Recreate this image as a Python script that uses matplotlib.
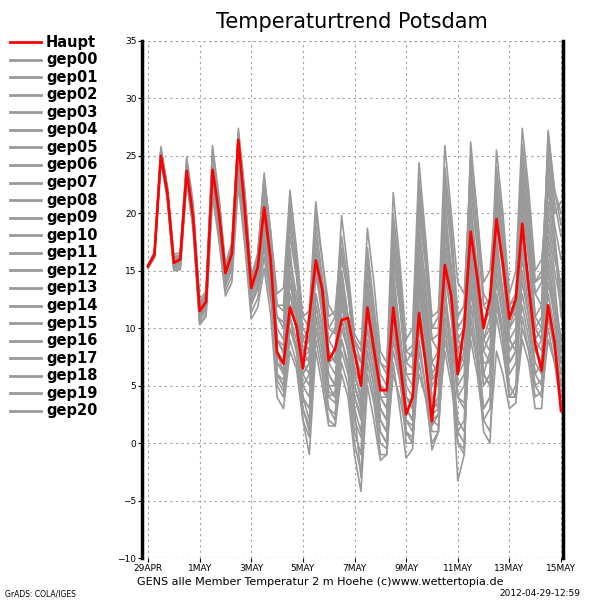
import numpy as np
import matplotlib
matplotlib.use("Agg")
import matplotlib.pyplot as plt
from matplotlib.lines import Line2D

# 6-hourly steps, 29APR 00Z .. 15MAY 00Z
steps = np.arange(65) * 0.25
tick_days = [0, 2, 4, 6, 8, 10, 12, 14, 16]
tick_labels = ['29APR', '1MAY', '3MAY', '5MAY', '7MAY', '9MAY', '11MAY', '13MAY', '15MAY']

haupt = [15.4, 16.4, 25.0, 21.8, 15.7, 16.0, 23.7, 19.6, 11.5, 12.3, 23.8, 20.0,
         14.8, 16.5, 26.4, 20.3, 13.5, 15.3, 20.5, 16.0, 7.9, 6.9, 11.8, 10.2,
         6.5, 11.0, 15.9, 13.4, 7.2, 8.2, 10.7, 10.9, 7.9, 5.0, 11.8, 8.2,
         4.6, 4.6, 11.8, 7.3, 2.5, 4.0, 11.3, 7.0, 1.9, 7.6, 15.5, 12.8,
         6.0, 10.2, 18.4, 14.5, 10.0, 12.6, 19.5, 15.6, 10.8, 12.6, 19.1, 13.6,
         8.6, 6.3, 12.0, 8.8, 2.8]

gep00 = [15.3, 16.3, 25.2, 21.6, 15.5, 15.8, 23.5, 19.4, 11.3, 12.0, 23.2, 19.6, 14.5, 16.2, 25.8, 20.0, 13.2, 14.8, 19.5, 15.2,
         9.0, 7.8, 13.0, 11.0, 7.5, 8.0, 14.5, 12.0, 7.0, 7.5, 12.0, 10.5, 6.5, 5.0, 13.0, 9.0, 5.0, 4.5, 13.5, 9.5,
         5.0, 4.0, 14.0, 10.0, 5.5, 6.5, 17.0, 13.0, 8.0, 9.5, 19.0, 15.0, 10.5, 11.5, 20.5, 16.0, 12.0, 12.5, 18.0, 14.0,
         10.0, 9.0, 15.0, 12.0, 9.0]
gep01 = [15.5, 16.6, 25.6, 22.2, 16.2, 16.4, 24.6, 20.4, 12.2, 13.0, 25.5, 21.2, 15.4, 17.2, 27.0, 21.5, 14.5, 16.0, 22.5, 17.5,
         11.0, 10.0, 18.0, 14.5, 10.0, 9.0, 17.0, 13.5, 9.0, 8.0, 15.0, 11.0, 6.0, 4.0, 10.0, 7.0, 3.0, 2.0, 16.0, 12.0,
         7.0, 6.5, 20.0, 15.5, 9.0, 8.0, 22.0, 17.0, 10.0, 11.0, 24.0, 18.5, 12.0, 12.5, 21.0, 16.0, 11.0, 12.0, 23.0, 18.0,
         13.0, 12.0, 20.0, 16.0, 14.0]
gep02 = [15.3, 16.2, 24.7, 21.4, 15.2, 15.4, 23.1, 19.0, 10.8, 11.6, 22.6, 19.0, 13.6, 15.3, 24.2, 18.6, 12.0, 13.4, 17.0, 13.0,
         6.0, 5.0, 10.0, 8.5, 5.0, 6.0, 12.0, 9.0, 4.0, 3.5, 9.0, 6.5, 2.0, 0.5, 8.0, 5.0, 1.0, 0.0, 12.0, 7.5,
         2.0, 1.5, 11.0, 7.0, 1.5, 2.5, 15.0, 11.0, 4.0, 5.0, 17.0, 13.0, 8.0, 9.5, 22.0, 17.5, 12.0, 13.0, 25.0, 20.0,
         14.0, 14.5, 24.0, 19.0, 16.0]
gep03 = [15.4, 16.5, 25.1, 22.0, 15.9, 16.3, 24.1, 20.1, 12.0, 12.8, 24.8, 20.8, 15.2, 16.9, 26.8, 21.4, 14.2, 16.2, 23.5, 18.0,
         12.0, 11.5, 21.0, 16.0, 11.0, 10.0, 19.0, 14.5, 10.0, 9.5, 17.0, 13.0, 8.0, 7.0, 15.0, 11.0, 7.0, 6.0, 19.0, 14.0,
         8.0, 7.5, 17.0, 12.0, 6.0, 5.0, 13.0, 9.0, 4.0, 3.5, 12.0, 8.0, 3.0, 4.0, 16.0, 12.0, 7.0, 8.0, 20.0, 16.0,
         10.0, 11.0, 27.0, 22.0, 20.0]
gep04 = [15.4, 16.4, 24.9, 21.7, 15.6, 15.9, 23.4, 19.5, 11.4, 12.1, 23.0, 19.4, 14.2, 15.8, 25.0, 19.4, 13.0, 14.4, 18.5, 14.6,
         8.0, 6.0, 15.0, 11.0, 4.0, 2.0, 10.0, 7.0, 3.0, 2.5, 8.0, 6.0, 1.0, -1.0, 12.0, 7.0, 2.0, 1.0, 9.0, 6.0,
         1.0, 0.5, 14.0, 9.0, 3.0, 4.0, 19.0, 14.0, 6.0, 7.0, 22.0, 17.0, 9.0, 11.0, 25.5, 20.0, 13.0, 15.0, 27.4, 22.0,
         15.0, 16.0, 22.0, 18.0, 13.0]
gep05 = [15.5, 16.5, 25.4, 22.0, 15.8, 16.2, 24.0, 19.9, 11.8, 12.6, 24.4, 20.4, 15.0, 16.8, 26.2, 20.6, 13.8, 15.6, 21.4, 16.8,
         7.0, 6.5, 12.0, 10.0, 6.0, 7.0, 16.0, 12.5, 9.0, 10.0, 19.8, 15.0, 9.5, 8.5, 14.0, 10.0, 6.0, 5.0, 11.0, 7.5,
         3.0, 2.0, 8.0, 5.0, 1.0, 1.0, 10.0, 6.0, 0.0, -0.5, 15.0, 10.0, 5.0, 6.0, 18.0, 13.0, 8.0, 9.0, 14.0, 11.0,
         7.0, 6.0, 12.0, 9.0, 5.0]
gep06 = [15.3, 16.3, 24.8, 21.5, 15.4, 15.7, 23.2, 19.2, 11.0, 11.8, 22.2, 18.6, 13.8, 15.4, 24.6, 19.0, 12.4, 13.8, 17.8, 13.6,
         5.0, 4.0, 9.0, 7.0, 3.0, 1.0, 11.0, 8.0, 4.0, 4.5, 14.0, 10.0, 5.0, 3.5, 17.0, 12.0, 7.0, 6.5, 21.8, 16.0,
         9.0, 10.0, 24.4, 18.0, 11.0, 11.5, 20.0, 15.0, 9.0, 8.0, 16.0, 12.0, 6.0, 5.0, 12.0, 9.0, 4.0, 4.0, 15.0, 11.0,
         6.0, 7.0, 18.0, 14.0, 8.0]
gep07 = [15.4, 16.4, 25.0, 21.9, 15.8, 16.1, 23.8, 19.7, 11.6, 12.4, 24.0, 20.1, 14.9, 16.6, 26.5, 20.5, 13.6, 15.4, 21.0, 16.4,
         9.0, 8.0, 16.0, 13.0, 9.0, 10.0, 20.0, 16.0, 11.0, 11.5, 18.0, 14.0, 9.0, 7.0, 11.0, 8.0, 4.0, 3.0, 8.0, 5.5,
         2.0, 1.0, 12.0, 8.0, 2.5, 3.0, 16.0, 12.0, 5.0, 6.0, 20.0, 15.0, 9.0, 10.0, 24.0, 19.0, 11.0, 12.0, 21.0, 16.0,
         10.0, 9.0, 17.0, 13.0, 9.0]
gep08 = [15.5, 16.7, 25.8, 22.4, 16.4, 16.6, 24.9, 20.9, 12.5, 13.2, 25.9, 21.5, 15.5, 17.5, 27.4, 22.0, 14.5, 16.5, 23.0, 18.4,
         6.0, 5.5, 11.0, 8.0, 3.0, 1.5, 9.0, 6.0, 2.0, 1.5, 7.0, 5.0, 0.0, -2.5, 6.0, 3.5, -1.0, -1.0, 10.0, 6.0,
         0.0, 0.0, 15.0, 10.0, 3.0, 3.5, 21.0, 15.0, 6.0, 8.0, 26.2, 20.0, 12.0, 11.0, 19.0, 15.0, 9.0, 8.0, 13.0, 10.0,
         6.0, 5.0, 10.0, 7.0, 4.0]
gep09 = [15.2, 16.1, 24.6, 21.3, 15.1, 15.2, 22.9, 18.8, 10.5, 11.3, 21.8, 18.0, 13.2, 14.6, 23.4, 18.0, 11.4, 12.6, 16.2, 12.4,
         11.0, 10.5, 19.0, 15.0, 8.0, 7.0, 15.0, 11.0, 6.0, 5.0, 11.0, 8.0, 3.0, 1.0, 9.0, 6.0, 2.0, 1.0, 14.0, 9.0,
         4.0, 3.0, 19.0, 14.0, 7.0, 8.0, 24.0, 19.0, 11.0, 12.0, 18.0, 14.0, 8.0, 7.0, 14.0, 11.0, 6.0, 7.0, 17.0, 13.0,
         9.0, 10.0, 21.0, 17.0, 12.0]
gep10 = [15.4, 16.4, 25.1, 21.8, 15.7, 16.0, 23.6, 19.5, 11.5, 12.2, 23.5, 19.8, 14.6, 16.2, 25.9, 20.1, 13.4, 15.0, 20.0, 15.8,
         8.0, 7.0, 14.0, 12.0, 8.0, 9.0, 18.0, 14.0, 10.0, 11.0, 16.0, 13.0, 9.0, 8.0, 18.7, 14.0, 8.0, 7.0, 17.0, 13.0,
         8.0, 8.5, 21.0, 16.0, 10.0, 11.0, 25.9, 20.0, 14.0, 13.0, 23.0, 18.0, 13.0, 12.0, 17.0, 13.0, 9.0, 8.0, 12.0, 9.0,
         5.0, 4.0, 9.0, 7.0, 3.0]
gep11 = [15.3, 16.2, 24.6, 21.2, 15.0, 15.1, 22.8, 18.5, 10.3, 11.0, 21.5, 17.6, 12.8, 14.0, 22.5, 17.2, 10.8, 11.8, 15.2, 11.2,
         4.0, 3.0, 8.0, 6.5, 2.0, 0.5, 10.0, 7.0, 3.0, 2.0, 13.0, 9.0, 3.0, -3.0, 7.0, 4.0, 0.0, -0.5, 13.0, 8.0,
         1.0, 0.0, 16.0, 11.0, 4.0, 3.0, 12.0, 8.0, 2.0, 1.0, 10.0, 7.0, 1.0, 0.0, 13.0, 9.0, 4.0, 5.0, 19.0, 14.0,
         8.0, 9.0, 23.0, 18.0, 11.0]
gep12 = [15.5, 16.6, 25.4, 22.2, 16.1, 16.4, 24.4, 20.3, 12.1, 12.9, 25.0, 20.9, 15.3, 17.0, 26.9, 21.8, 14.3, 16.3, 23.2, 18.5,
         13.0, 13.5, 22.0, 17.0, 11.0, 11.5, 21.0, 16.0, 12.0, 11.0, 13.0, 10.0, 6.0, 4.0, 12.0, 8.0, 3.0, 2.0, 15.0, 10.0,
         4.0, 3.0, 10.0, 7.0, 2.0, 1.5, 9.0, 6.0, 0.0, -1.0, 14.0, 9.0, 3.0, 4.0, 20.0, 15.0, 9.0, 10.0, 24.0, 19.0,
         13.0, 14.0, 26.0, 21.0, 18.0]
gep13 = [15.4, 16.4, 25.0, 21.8, 15.7, 16.0, 23.7, 19.6, 11.6, 12.3, 23.9, 20.0, 14.7, 16.4, 26.2, 20.3, 13.5, 15.2, 20.6, 16.0,
         7.0, 6.0, 12.0, 10.0, 6.0, 5.0, 13.0, 10.0, 5.0, 4.0, 10.0, 8.0, 5.0, 3.0, 16.0, 11.0, 4.0, 4.0, 20.0, 15.0,
         7.0, 8.0, 23.0, 17.0, 10.0, 10.0, 18.0, 14.0, 8.0, 7.0, 13.0, 10.0, 6.0, 5.0, 11.0, 8.0, 4.0, 4.0, 10.0, 8.0,
         5.0, 5.5, 14.0, 11.0, 7.0]
gep14 = [15.3, 16.3, 24.9, 21.6, 15.5, 15.8, 23.3, 19.3, 11.1, 11.9, 22.8, 19.2, 14.0, 15.6, 25.2, 19.6, 12.8, 14.2, 18.8, 14.8,
         10.0, 9.0, 17.0, 11.0, 2.0, -1.0, 8.0, 5.0, 1.5, 1.5, 6.0, 4.0, -1.0, -4.2, 5.0, 2.0, -1.5, -1.0, 7.0, 3.0,
         -1.3, -0.5, 9.0, 5.0, -0.6, 1.0, 14.0, 7.0, -3.3, -1.0, 21.0, 15.0, 6.0, 8.0, 23.0, 18.0, 10.0, 12.0, 26.0, 21.0,
         14.0, 15.0, 25.0, 20.0, 21.0]
gep15 = [15.4, 16.5, 25.2, 22.0, 15.9, 16.2, 24.0, 19.9, 11.8, 12.5, 24.2, 20.3, 15.0, 16.7, 26.6, 20.8, 13.8, 15.8, 21.8, 17.0,
         8.0, 7.0, 13.0, 10.0, 7.0, 7.5, 15.0, 12.0, 8.0, 7.0, 17.0, 13.0, 8.0, 6.0, 13.0, 9.0, 5.0, 4.0, 11.0, 8.0,
         4.0, 3.5, 13.0, 9.0, 5.0, 6.0, 17.0, 13.0, 9.0, 8.0, 12.0, 10.0, 7.0, 7.0, 15.0, 11.0, 8.0, 9.0, 22.0, 17.0,
         11.0, 10.0, 19.0, 15.0, 12.0]
gep16 = [15.4, 16.4, 25.0, 21.8, 15.6, 15.9, 23.6, 19.6, 11.4, 12.2, 23.6, 19.9, 14.7, 16.3, 26.0, 20.2, 13.4, 15.1, 20.2, 15.8,
         5.5, 4.5, 10.0, 8.0, 4.0, 3.0, 12.0, 9.0, 5.0, 5.0, 15.0, 11.0, 6.0, 4.0, 10.0, 7.0, 2.0, 1.0, 18.0, 13.0,
         6.0, 6.0, 22.0, 16.0, 9.0, 9.5, 23.0, 18.0, 11.0, 12.0, 25.0, 20.0, 14.0, 15.0, 22.0, 17.0, 12.0, 11.0, 16.0, 12.0,
         8.0, 7.0, 13.0, 10.0, 6.0]
gep17 = [15.5, 16.6, 25.5, 22.1, 16.0, 16.3, 24.3, 20.1, 12.0, 12.7, 24.8, 20.7, 15.2, 17.0, 26.8, 21.2, 14.1, 16.0, 22.4, 17.6,
         12.0, 12.0, 20.0, 15.0, 9.0, 8.0, 16.0, 12.0, 7.0, 6.0, 9.0, 7.0, 4.0, 2.0, 8.0, 5.0, 1.0, 0.0, 6.0, 4.0,
         1.0, 0.0, 7.0, 4.0, 0.0, 1.0, 11.0, 7.0, 1.0, 2.0, 16.0, 11.0, 5.0, 6.0, 21.0, 16.0, 10.0, 11.0, 18.0, 14.0,
         9.0, 8.0, 15.0, 11.0, 7.0]
gep18 = [15.3, 16.2, 24.8, 21.5, 15.3, 15.6, 23.0, 19.0, 10.9, 11.7, 22.4, 18.8, 13.7, 15.2, 24.4, 18.8, 12.2, 13.6, 17.4, 13.4,
         7.5, 7.0, 14.0, 11.0, 5.0, 4.0, 11.0, 8.0, 4.5, 4.0, 12.0, 9.0, 4.0, 2.5, 14.0, 10.0, 5.0, 4.0, 16.0, 12.0,
         6.0, 5.0, 18.0, 13.0, 7.0, 6.0, 15.0, 11.0, 4.0, 3.0, 9.0, 6.0, 2.0, 1.0, 8.0, 6.0, 3.0, 3.5, 11.0, 8.0,
         4.0, 4.5, 16.0, 12.0, 8.0]
gep19 = [15.4, 16.4, 25.1, 21.8, 15.7, 16.0, 23.8, 19.7, 11.5, 12.4, 23.9, 20.1, 14.8, 16.5, 26.3, 20.4, 13.6, 15.4, 20.8, 16.2,
         6.0, 5.0, 11.0, 9.0, 6.0, 7.0, 17.0, 13.0, 8.0, 7.0, 14.0, 10.0, 6.0, 4.0, 9.0, 6.0, 3.0, 2.0, 12.0, 8.0,
         3.0, 2.0, 6.0, 4.0, 2.0, 2.5, 8.0, 5.0, 1.0, 0.0, 11.0, 7.0, 2.0, 3.0, 17.0, 13.0, 7.0, 8.0, 23.0, 18.0,
         11.0, 12.0, 27.2, 22.0, 19.0]
gep20 = [15.4, 16.5, 25.2, 21.9, 15.8, 16.1, 23.9, 19.8, 11.7, 12.5, 24.1, 20.2, 14.9, 16.6, 26.4, 20.6, 13.7, 15.5, 21.2, 16.6,
         9.0, 8.5, 16.0, 12.0, 7.0, 6.0, 13.0, 10.0, 6.0, 5.0, 11.0, 8.0, 5.0, 3.0, 12.0, 8.0, 4.0, 3.0, 10.0, 7.0,
         3.0, 2.0, 16.0, 11.0, 6.0, 7.0, 20.0, 15.0, 9.0, 10.0, 17.0, 13.0, 9.0, 8.0, 13.0, 10.0, 5.0, 4.0, 9.0, 7.0,
         3.0, 3.0, 11.0, 8.0, 4.0]

members = [gep00, gep01, gep02, gep03, gep04, gep05, gep06, gep07, gep08, gep09, gep10,
           gep11, gep12, gep13, gep14, gep15, gep16, gep17, gep18, gep19, gep20]
member_names = ['gep%02d' % k for k in range(21)]

grey = '#999999'
red = '#ff0000'

fig = plt.figure(figsize=(6, 6), dpi=100)
ax = fig.add_axes([142/600, 1 - 558/600, 421/600, 517/600])

for vals in members:
    ax.plot(steps, vals, color=grey, lw=1.2, zorder=2)
ax.plot(steps, haupt, color=red, lw=1.9, zorder=3)

ax.set_xlim(-0.232, 16.077)
ax.set_ylim(-10, 35)
ax.set_xticks(tick_days)
ax.set_xticklabels(tick_labels)
ax.set_yticks(np.arange(-10, 36, 5))
ax.tick_params(labelsize=6.5, length=3, width=0.8, direction='out', pad=1)
ax.grid(True, color='#a0a0a0', lw=0.8, linestyle=(0, (2, 3)))
for s in ['top', 'bottom']:
    ax.spines[s].set_visible(False)
for s in ['left', 'right']:
    ax.spines[s].set_linewidth(2.5)
ax.axhline(35, color='#a0a0a0', lw=0.8, linestyle=(0, (2, 3)), zorder=1)
ax.axhline(-10, color='#606060', lw=0.8, linestyle=(0, (2, 3)), zorder=1)

fig.text(352/600, 1 - 22/600, 'Temperaturtrend Potsdam', ha='center', va='center', fontsize=15)
fig.text(320/600, 1 - 582/600, 'GENS alle Member Temperatur 2 m Hoehe (c)www.wettertopia.de',
         ha='center', va='center', fontsize=8)
fig.text(5/600, 1 - 594/600, 'GrADS: COLA/IGES', ha='left', va='center', fontsize=5.5)
fig.text(580/600, 1 - 594/600, '2012-04-29-12:59', ha='right', va='center', fontsize=6.5)

# legend column on the left
names = ['Haupt'] + member_names
colors = [red] + [grey] * 21
for k, (nm, c) in enumerate(zip(names, colors)):
    yy = 1 - (42 + k * 17.57) / 600
    fig.add_artist(Line2D([10/600, 41/600], [yy, yy], color=c, lw=2.0, transform=fig.transFigure))
    fig.text(46/600, yy, nm, ha='left', va='center', fontsize=10.5, fontweight='bold')

fig.savefig('out.png', dpi=100)
